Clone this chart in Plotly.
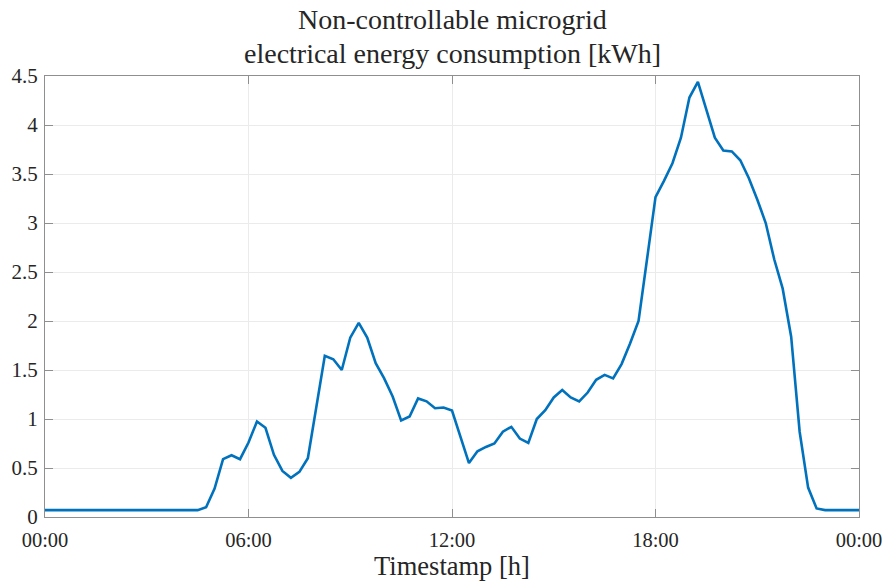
import pandas as pd
import plotly.graph_objects as go

# 15-minute consumption samples over one day (00:00 .. 24:00)
start_time = "2000-01-01 00:00"
sample_step = "15min"
consumption_kwh = [
    0.07, 0.07, 0.07, 0.07, 0.07, 0.07, 0.07, 0.07, 0.07, 0.07,
    0.07, 0.07, 0.07, 0.07, 0.07, 0.07, 0.07, 0.07, 0.07, 0.10,
    0.29, 0.59, 0.63, 0.59, 0.76, 0.975, 0.91, 0.635, 0.47, 0.40,
    0.46, 0.60, 1.11, 1.645, 1.61, 1.50, 1.83, 1.98, 1.83, 1.57,
    1.415, 1.23, 0.985, 1.025, 1.21, 1.18, 1.11, 1.117, 1.086, 0.81,
    0.55, 0.67, 0.715, 0.75, 0.87, 0.92, 0.80, 0.755, 1.00, 1.09,
    1.22, 1.295, 1.22, 1.18, 1.27, 1.40, 1.45, 1.415, 1.56, 1.77,
    2.00, 2.63, 3.265, 3.43, 3.61, 3.87, 4.28, 4.44, 4.16, 3.87,
    3.74, 3.73, 3.64, 3.46, 3.24, 3.00, 2.63, 2.33, 1.84, 0.87,
    0.30, 0.087, 0.07, 0.07, 0.07, 0.07, 0.07,
]
y_ticks = [0, 0.5, 1, 1.5, 2, 2.5, 3, 3.5, 4, 4.5]
y_tick_labels = ["0", "0.5", "1", "1.5", "2", "2.5", "3", "3.5", "4", "4.5"]
title_lines = ["Non-controllable microgrid", "electrical energy consumption [kWh]"]

timestamps = pd.date_range(start_time, periods=len(consumption_kwh), freq=sample_step)

FONT = "Liberation Serif"
TEXT_COLOR = "#262626"
AXIS_COLOR = "#8f8f8f"
GRID_COLOR = "#ebebeb"

fig = go.Figure()
fig.add_trace(go.Scatter(
    x=timestamps,
    y=consumption_kwh,
    mode="lines",
    line=dict(color="#0072BD", width=2.6),
    hoverinfo="x+y",
))

# Two-line title placed above the axes box
for line_text, y_pos in zip(title_lines, [1.127, 1.05]):
    fig.add_annotation(
        text=line_text,
        x=0.5, xref="paper", xanchor="center",
        y=y_pos, yref="paper", yanchor="middle",
        showarrow=False,
        font=dict(family=FONT, size=28, color=TEXT_COLOR),
    )

fig.update_layout(
    width=894,
    height=583,
    margin=dict(l=44, r=26, t=76, b=64),
    paper_bgcolor="white",
    plot_bgcolor="white",
    showlegend=False,
    font=dict(family=FONT, color=TEXT_COLOR, size=20),
)

fig.update_xaxes(
    range=[timestamps[0], timestamps[-1]],
    tickformat="%H:%M",
    dtick=6 * 3600 * 1000,
    tick0=timestamps[0],
    showgrid=True,
    gridcolor=GRID_COLOR,
    gridwidth=1,
    showline=True,
    linecolor=AXIS_COLOR,
    linewidth=1,
    mirror="ticks",
    ticks="inside",
    ticklen=8,
    tickcolor=AXIS_COLOR,
    tickfont=dict(family=FONT, size=20.5, color=TEXT_COLOR),
    ticklabelstandoff=4,
    title=dict(text="Timestamp [h]", font=dict(family=FONT, size=26.5, color=TEXT_COLOR), standoff=2),
    zeroline=False,
)

fig.update_yaxes(
    range=[0, 4.5],
    tickvals=y_ticks,
    ticktext=y_tick_labels,
    showgrid=True,
    gridcolor=GRID_COLOR,
    gridwidth=1,
    showline=True,
    linecolor=AXIS_COLOR,
    linewidth=1,
    mirror="ticks",
    ticks="inside",
    ticklen=8,
    tickcolor=AXIS_COLOR,
    tickfont=dict(family=FONT, size=21, color=TEXT_COLOR),
    ticklabelstandoff=2,
    zeroline=False,
)

fig.write_html("out.html")
